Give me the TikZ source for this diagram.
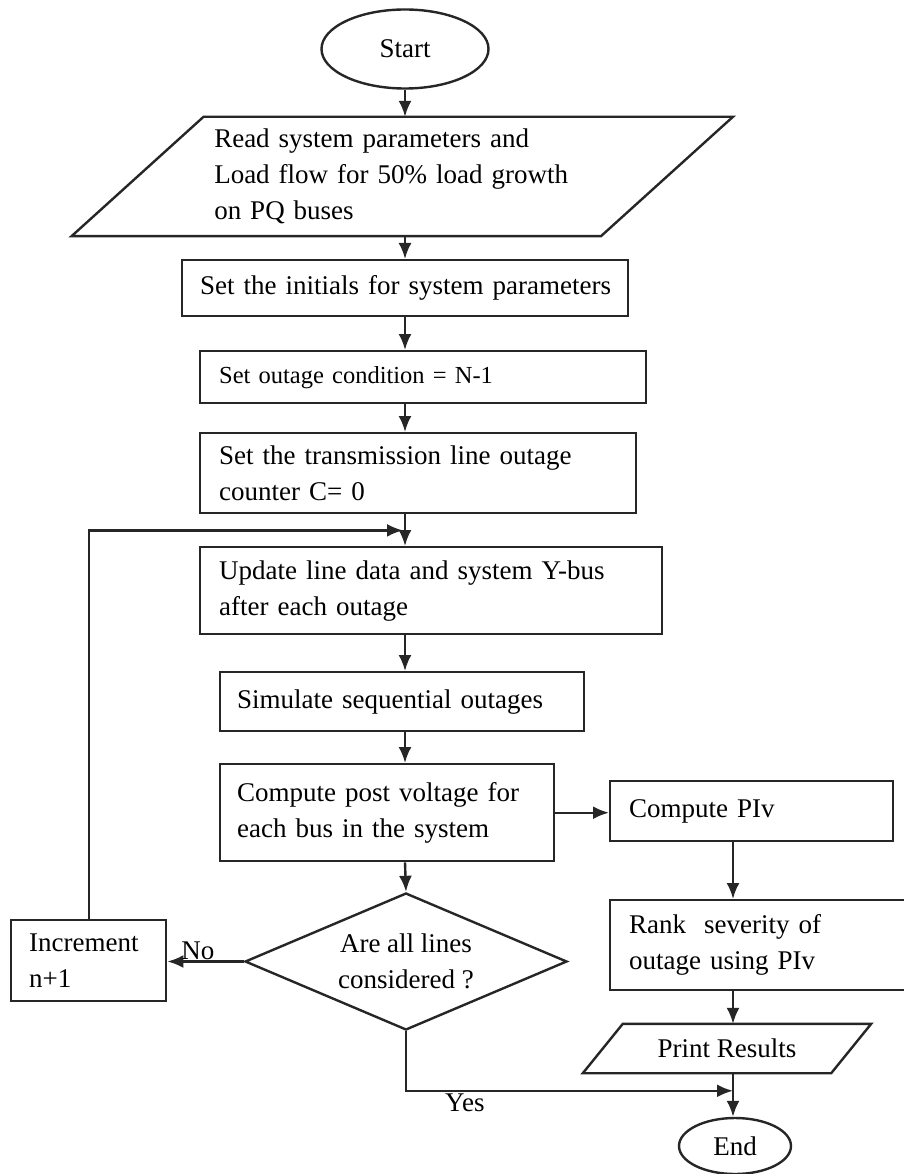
\documentclass[tikz,border=0pt]{standalone}
\usepackage{fontspec}
\setmainfont{Liberation Serif}
\usetikzlibrary{shapes.geometric,arrows.meta,calc}
\begin{document}
\begin{tikzpicture}[x=1pt,y=-1pt,
  every node/.style={font=\fontsize{27}{36}\selectfont},
  ln/.style={line width=2.4pt,draw=black!85},
  arr/.style={ln,-{Latex[length=16pt,width=13pt]}},
  pbox/.style={ln,rectangle,anchor=north west,align=left,inner ysep=0pt},
  oval/.style={ln,ellipse,inner sep=0pt},
  dec/.style={ln,diamond,inner sep=0pt,align=center}]
\useasboundingbox (0,0) rectangle (903,1174);
% nodes
\node[oval,minimum width=167,minimum height=79] (start) at (405,49) {Start};
\node[rectangle,minimum width=529,minimum height=119,inner xsep=76.5pt,text width=376pt,align=left,inner ysep=0pt] (read) at (402.25,176.5)
  {Read system parameters and\\Load flow for 50\% load growth\\on PQ buses};
\draw[ln,line join=miter] ($(read.north west)+(66,0)$) -- ($(read.north east)+(66,0)$) -- ($(read.south east)+(-66,0)$) -- ($(read.south west)+(-66,0)$) -- cycle;
\node[pbox,minimum width=446,minimum height=56,inner xsep=18pt,text width=410pt] (b1) at (181,259) {\mbox{Set the initials for system parameters}};
\node[pbox,minimum width=446,minimum height=52,inner xsep=19pt,text width=408pt,font=\fontsize{24.5}{33}\selectfont] (b2) at (199,350) {Set outage condition = N-1};
\node[pbox,minimum width=436,minimum height=80,inner xsep=19pt,text width=398pt] (b3) at (199,432) {Set the transmission line outage\\counter C= 0};
\node[pbox,minimum width=462,minimum height=87,inner xsep=19pt,text width=424pt] (b4) at (199,546) {Update line data and system Y-bus\\after each outage};
\node[pbox,minimum width=364,minimum height=59,inner xsep=17pt,text width=330pt] (b5) at (219,671) {Simulate sequential outages};
\node[pbox,minimum width=334,minimum height=97,inner xsep=17pt,text width=300pt] (b6) at (219,763) {Compute post voltage for\\each bus in the system};
\node[pbox,minimum width=283,minimum height=60,inner xsep=19pt,text width=245pt] (b7) at (609,780) {Compute PIv};
\node[pbox,minimum width=310,minimum height=90,inner xsep=19pt,text width=272pt] (b8) at (609,899) {Rank~ severity of\\outage using PIv};
\node[pbox,minimum width=155,minimum height=81,inner xsep=18pt,text width=119pt] (incr) at (10,919) {Increment\\n+1};
\node[dec,minimum width=322,minimum height=137,aspect=2.35] (dec) at (406,961.5) {Are all lines\\considered ?};
\node[rectangle,minimum width=248,minimum height=49,inner sep=0pt] (print) at (727,1048.5) {Print Results};
\draw[ln,line join=miter] ($(print.north west)+(20,0)$) -- ($(print.north east)+(20,0)$) -- ($(print.south east)+(-20,0)$) -- ($(print.south west)+(-20,0)$) -- cycle;
\node[oval,minimum width=112,minimum height=56] (end) at (735,1146) {End};
% junction coordinates
\coordinate (lj) at ($(b3.south -| start)+(-2,16)$);
\coordinate (yj) at ($(end.north)+(-2,-26)$);
% connectors
\draw[arr] (start.south) -- (start.south |- read.north);
\draw[arr] (read.south -| start) -- (b1.north -| start);
\draw[arr] (b1.south -| start) -- (b2.north -| start);
\draw[arr] (b2.south -| start) -- (b3.north -| start);
\draw[arr] (b3.south -| start) -- (b4.north -| start);
\draw[arr] (b4.south -| start) -- (b5.north -| start);
\draw[arr] (b5.south -| start) -- (b6.north -| start);
\draw[arr] (b6.south -| start) -- (dec.north);
\draw[arr] (b6.east) -- (b6.east -| b7.west);
\draw[arr] (b7.south -| yj) -- (b8.north -| yj);
\draw[arr] (b8.south -| yj) -- (print.north -| yj);
\draw[arr] (print.south -| yj) -- (yj |- end.north);
\draw[arr] (dec.west) -- node[above,pos=0.6,inner sep=1pt] {No} (dec.west -| incr.east);
\draw[arr] (dec.south) |- node[below,pos=0.59,inner sep=2pt] {Yes} (yj);
\draw[arr] (incr.north) |- (lj);
\end{tikzpicture}
\end{document}
